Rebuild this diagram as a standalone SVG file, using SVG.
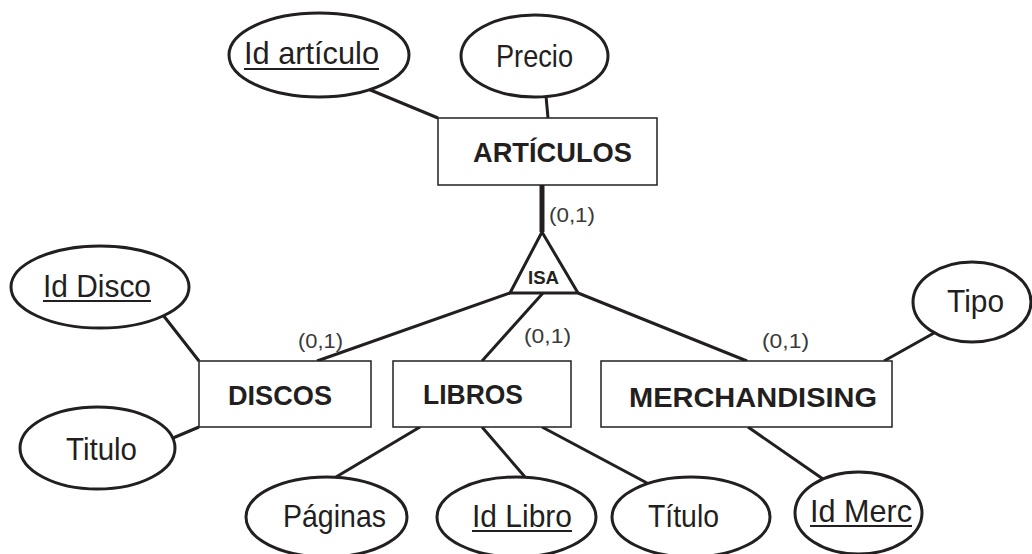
<svg xmlns="http://www.w3.org/2000/svg" width="1032" height="554" viewBox="0 0 1032 554">
<style>
.ent{fill:#fff;stroke:#231f20;stroke-width:1.5}
.att{fill:#fff;stroke:#231f20;stroke-width:3}
.lbl{font-family:"Liberation Sans",Arial,sans-serif;font-size:32px;fill:#231f20}
.bold{font-family:"Liberation Sans",Arial,sans-serif;font-weight:bold;font-size:28px;fill:#231f20}
.card{font-family:"Liberation Sans",Arial,sans-serif;font-size:21px;fill:#3a3a3a}
.ul{stroke:#231f20;stroke-width:2.2}
.con line{stroke:#231f20;stroke-width:3;stroke-linecap:butt}
</style>
<rect width="1032" height="554" fill="#fff"/>
<g id="connectors" class="con">
<line x1="368" y1="89" x2="438" y2="118"/>
<line x1="546" y1="96" x2="548" y2="118"/>
<line x1="542" y1="185" x2="542" y2="232" style="stroke-width:5"/>
<line x1="510" y1="293" x2="317" y2="361"/>
<line x1="543" y1="293" x2="482" y2="361"/>
<line x1="578" y1="293" x2="747" y2="361"/>
<line x1="163" y1="315" x2="199" y2="361"/>
<line x1="173" y1="438" x2="199" y2="427"/>
<line x1="934" y1="333" x2="884" y2="361"/>
<line x1="420" y1="427" x2="336" y2="477"/>
<line x1="482" y1="427" x2="525" y2="477"/>
<line x1="542" y1="427" x2="647" y2="483"/>
<line x1="748" y1="427" x2="823" y2="479"/>
</g>
<g id="articulos">
<rect class="ent" x="438" y="118" width="219" height="67"/>
<text class="bold" x="473" y="162" textLength="159" lengthAdjust="spacingAndGlyphs">ARTÍCULOS</text>
</g>
<g id="id-articulo">
<ellipse class="att" cx="319" cy="55" rx="90" ry="42"/>
<text class="lbl" x="244" y="64" textLength="135" lengthAdjust="spacingAndGlyphs">Id artículo</text>
<line class="ul" x1="244" y1="69" x2="379" y2="69"/>
</g>
<g id="precio">
<ellipse class="att" cx="534.5" cy="56" rx="73.5" ry="41"/>
<text class="lbl" x="496" y="67" textLength="77" lengthAdjust="spacingAndGlyphs">Precio</text>
</g>
<g id="isa">
<polygon points="542,232 510,293 578,293" fill="#fff" stroke="#231f20" stroke-width="3" stroke-linejoin="miter"/>
<text x="528" y="284" font-family="Liberation Sans, Arial, sans-serif" font-weight="bold" font-size="18" fill="#231f20" textLength="31" lengthAdjust="spacingAndGlyphs">ISA</text>
</g>
<g id="cards">
<text class="card" x="549" y="222" textLength="46" lengthAdjust="spacingAndGlyphs">(0,1)</text>
<text class="card" x="298" y="348" textLength="45" lengthAdjust="spacingAndGlyphs">(0,1)</text>
<text class="card" x="524" y="343" textLength="47" lengthAdjust="spacingAndGlyphs">(0,1)</text>
<text class="card" x="762" y="348" textLength="47" lengthAdjust="spacingAndGlyphs">(0,1)</text>
</g>
<g id="discos">
<rect class="ent" x="199" y="361" width="172" height="66"/>
<text class="bold" x="228" y="405" textLength="104" lengthAdjust="spacingAndGlyphs">DISCOS</text>
</g>
<g id="libros">
<rect class="ent" x="393" y="361" width="178" height="66"/>
<text class="bold" x="423" y="404" textLength="100" lengthAdjust="spacingAndGlyphs">LIBROS</text>
</g>
<g id="merchandising">
<rect class="ent" x="601" y="361" width="291" height="66"/>
<text class="bold" x="629" y="407" textLength="248" lengthAdjust="spacingAndGlyphs">MERCHANDISING</text>
</g>
<g id="id-disco">
<ellipse class="att" cx="100" cy="287" rx="89" ry="41"/>
<text class="lbl" x="43" y="297" textLength="108" lengthAdjust="spacingAndGlyphs">Id Disco</text>
<line class="ul" x1="43" y1="301" x2="151" y2="301"/>
</g>
<g id="titulo-disco">
<ellipse class="att" cx="97.5" cy="448" rx="77.5" ry="41"/>
<text class="lbl" x="66" y="460" textLength="71" lengthAdjust="spacingAndGlyphs">Titulo</text>
</g>
<g id="tipo">
<ellipse class="att" cx="972" cy="302" rx="59" ry="40"/>
<text class="lbl" x="947" y="312" textLength="57" lengthAdjust="spacingAndGlyphs">Tipo</text>
</g>
<g id="paginas">
<ellipse class="att" cx="326.5" cy="517" rx="80.5" ry="40"/>
<text class="lbl" x="283" y="527" textLength="103" lengthAdjust="spacingAndGlyphs">Páginas</text>
</g>
<g id="id-libro">
<ellipse class="att" cx="516.5" cy="517" rx="79.5" ry="40"/>
<text class="lbl" x="472" y="527" textLength="100" lengthAdjust="spacingAndGlyphs">Id Libro</text>
<line class="ul" x1="472" y1="531" x2="572" y2="531"/>
</g>
<g id="titulo-libro">
<ellipse class="att" cx="691" cy="517" rx="79" ry="40"/>
<text class="lbl" x="648" y="527" textLength="71" lengthAdjust="spacingAndGlyphs">Título</text>
</g>
<g id="id-merc">
<ellipse class="att" cx="858.5" cy="513" rx="63.5" ry="41"/>
<text class="lbl" x="810" y="522" textLength="102" lengthAdjust="spacingAndGlyphs">Id Merc</text>
<line class="ul" x1="810" y1="526" x2="912" y2="526"/>
</g>
</svg>
